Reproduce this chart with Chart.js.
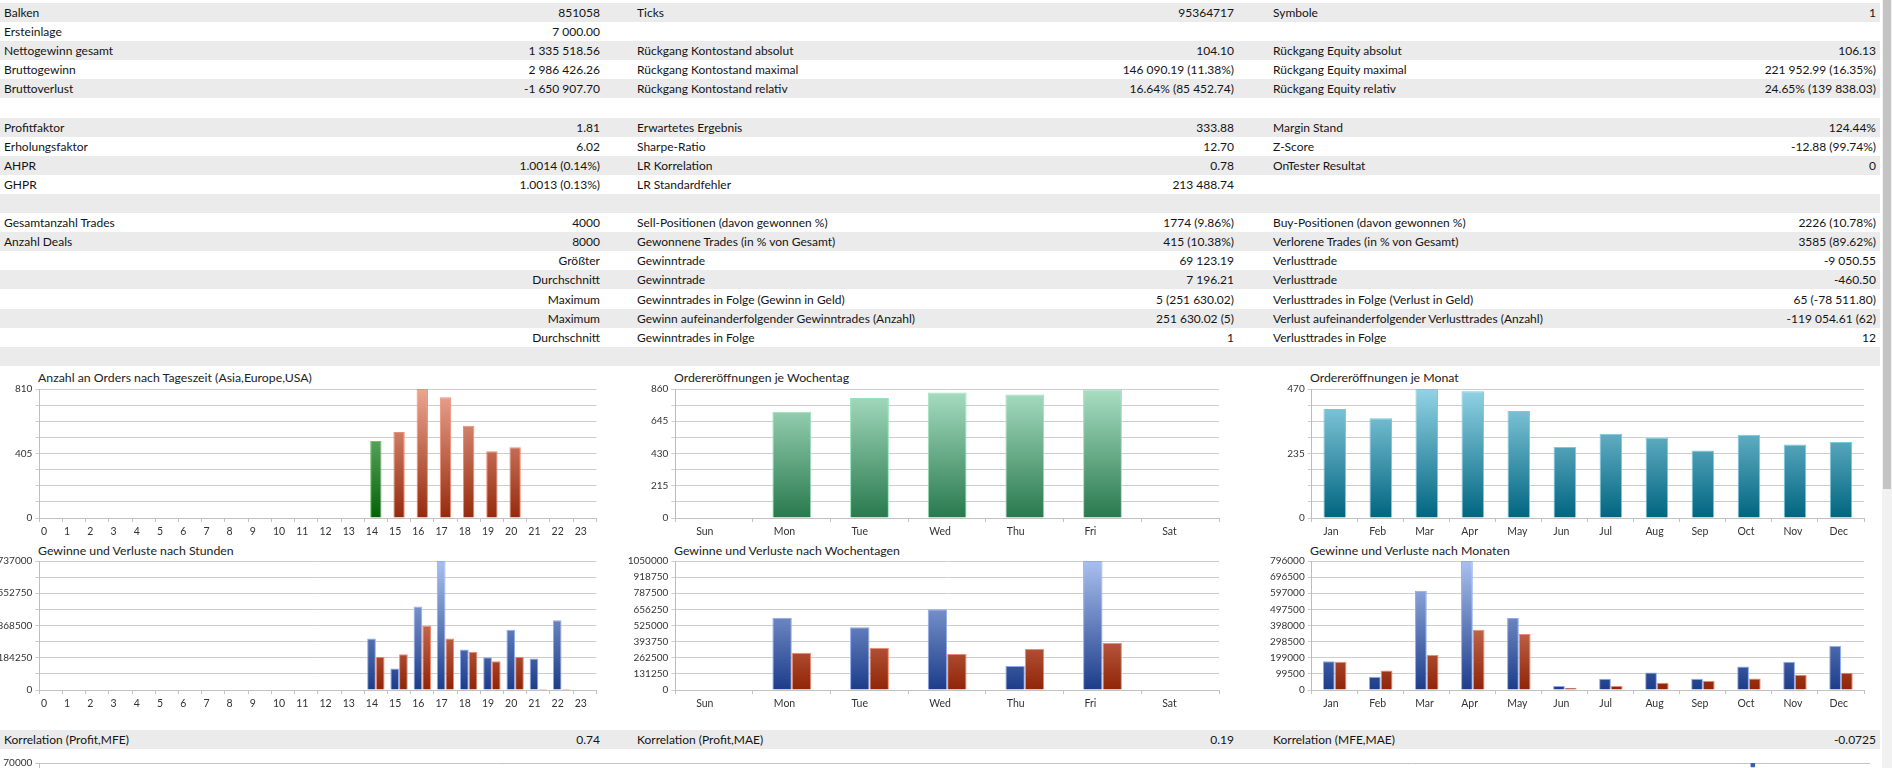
<!DOCTYPE html>
<html>
<head>
<meta charset="utf-8">
<script src="https://cdn.jsdelivr.net/npm/chart.js@4.4.1/dist/chart.umd.min.js"></script>
<style>
  html, body { margin:0; padding:0; width:1892px; height:768px; overflow:hidden; background:#fff; }
  body { position:relative; font-family: Lato, "Liberation Sans", sans-serif; font-size:12px; color:#141414; }
  .row { position:absolute; left:0; width:1880px; }
  .row.g { background:#ebebeb; }
  .cell { position:absolute; top:0; white-space:nowrap; }
  .r { text-align:right; width:300px; }
  .ttl { position:absolute; font-size:12.3px; color:#222; white-space:nowrap; line-height:14px; }
  canvas { position:absolute; }
  #sbTrack { position:absolute; left:1882px; top:0; width:10px; height:768px; background:#f1f1f1; }
  #sbThumb { position:absolute; left:1883px; top:0; width:8px; height:489px; background:#c4c4c4; }
</style>
</head>
<body>
<div id="table"></div>
<div class="ttl" style="left:38px;top:371px;">Anzahl an Orders nach Tageszeit (Asia,Europe,USA)</div>
<div class="ttl" style="left:674px;top:371px;">Ordereröffnungen je Wochentag</div>
<div class="ttl" style="left:1310px;top:371px;">Ordereröffnungen je Monat</div>
<div class="ttl" style="left:38px;top:544px;">Gewinne und Verluste nach Stunden</div>
<div class="ttl" style="left:674px;top:544px;">Gewinne und Verluste nach Wochentagen</div>
<div class="ttl" style="left:1310px;top:544px;">Gewinne und Verluste nach Monaten</div>
<canvas id="c1" width="600" height="159" style="left:0px;top:379px;width:600px;height:159px;"></canvas>
<canvas id="c2" width="602" height="159" style="left:620px;top:379px;width:602px;height:159px;"></canvas>
<canvas id="c3" width="617" height="159" style="left:1250px;top:379px;width:617px;height:159px;"></canvas>
<canvas id="c4" width="600" height="159" style="left:0px;top:551px;width:600px;height:159px;"></canvas>
<canvas id="c5" width="602" height="159" style="left:620px;top:551px;width:602px;height:159px;"></canvas>
<canvas id="c6" width="617" height="159" style="left:1250px;top:551px;width:617px;height:159px;"></canvas>
<canvas id="c7" width="1880" height="160" style="left:0px;top:753px;width:1880px;height:160px;"></canvas>
<div id="sbTrack"></div><div id="sbThumb"></div>
<script>
// ---------------- table data ----------------
const col1Labels = ['Balken','Ersteinlage','Nettogewinn gesamt','Bruttogewinn','Bruttoverlust','','Profitfaktor','Erholungsfaktor','AHPR','GHPR','','Gesamtanzahl Trades','Anzahl Deals','','','','','',''];
const col1Values = ['851058','7 000.00','1 335 518.56','2 986 426.26','-1 650 907.70','','1.81','6.02','1.0014 (0.14%)','1.0013 (0.13%)','','4000','8000','Größter','Durchschnitt','Maximum','Maximum','Durchschnitt',''];
const col2Labels = ['Ticks','','Rückgang Kontostand absolut','Rückgang Kontostand maximal','Rückgang Kontostand relativ','','Erwartetes Ergebnis','Sharpe-Ratio','LR Korrelation','LR Standardfehler','','Sell-Positionen (davon gewonnen %)','Gewonnene Trades (in % von Gesamt)','Gewinntrade','Gewinntrade','Gewinntrades in Folge (Gewinn in Geld)','Gewinn aufeinanderfolgender Gewinntrades (Anzahl)','Gewinntrades in Folge',''];
const col2Values = ['95364717','','104.10','146 090.19 (11.38%)','16.64% (85 452.74)','','333.88','12.70','0.78','213 488.74','','1774 (9.86%)','415 (10.38%)','69 123.19','7 196.21','5 (251 630.02)','251 630.02 (5)','1',''];
const col3Labels = ['Symbole','','Rückgang Equity absolut','Rückgang Equity maximal','Rückgang Equity relativ','','Margin Stand','Z-Score','OnTester Resultat','','','Buy-Positionen (davon gewonnen %)','Verlorene Trades (in % von Gesamt)','Verlusttrade','Verlusttrade','Verlusttrades in Folge (Verlust in Geld)','Verlust aufeinanderfolgender Verlusttrades (Anzahl)','Verlusttrades in Folge',''];
const col3Values = ['1','','106.13','221 952.99 (16.35%)','24.65% (139 838.03)','','124.44%','-12.88 (99.74%)','0','','','2226 (10.78%)','3585 (89.62%)','-9 050.55','-460.50','65 (-78 511.80)','-119 054.61 (62)','12',''];
const corrLabels = ['Korrelation (Profit,MFE)','Korrelation (Profit,MAE)','Korrelation (MFE,MAE)'];
const corrValues = ['0.74','0.19','-0.0725'];

// ---------------- chart data ----------------
const hourLabels = ['0','1','2','3','4','5','6','7','8','9','10','11','12','13','14','15','16','17','18','19','20','21','22','23'];
const hourSessions = ['Asia','Asia','Asia','Asia','Asia','Asia','Asia','Asia','Europe','Europe','Europe','Europe','Europe','Europe','Europe','USA','USA','USA','USA','USA','USA','USA','USA','USA'];
const ordersByHour = [0,0,0,0,0,0,0,0,0,0,0,0,0,0,483,540,810,758,580,419,445,0,0,0];
const weekdayLabels = ['Sun','Mon','Tue','Wed','Thu','Fri','Sat'];
const ordersByWeekday = [0,709,800,836,823,856,0];
const monthLabels = ['Jan','Feb','Mar','Apr','May','Jun','Jul','Aug','Sep','Oct','Nov','Dec'];
const ordersByMonth = [397,363,470,462,390,259,307,292,246,303,268,277];
const profitByHour = [0,0,0,0,0,0,0,0,0,0,0,0,0,0,293700,123100,477400,737000,231100,187600,344800,180000,397900,0];
const lossByHour   = [0,3000,3000,3000,3000,0,0,0,0,0,3000,0,0,0,189500,204600,367500,293700,217900,164800,189500,5700,5000,0];
const profitByWeekday = [0,589000,510000,657000,196000,1050000,0];
const lossByWeekday   = [0,304000,343000,294000,334000,383000,0];
const profitByMonth = [178000,81900,611800,796000,444000,24500,69600,108400,69600,145300,174000,272100];
const lossByMonth   = [175000,120700,216900,372400,345800,14300,24500,45000,57300,71600,94100,106400];
const scatterMfe = [234000];
const scatterProfit = [69000];

// axis maxima and how often a gridline carries a label
const yMaxOrdersHour = 810, yEveryOrdersHour = 4;
const yMaxOrdersWeekday = 860, yEveryOrdersWeekday = 2;
const yMaxOrdersMonth = 470, yEveryOrdersMonth = 4;
const yMaxPLHour = 737000, yEveryPLHour = 2;
const yMaxPLWeekday = 1050000, yEveryPLWeekday = 1;
const yMaxPLMonth = 796000, yEveryPLMonth = 1;
const yMaxScatter = 70000;

// ---------------- table build ----------------
const ROW_TOP = 3, ROW_H = 19.1;
const tbl = document.getElementById('table');
function addRow(top, h, gray, cells) {
  const r = document.createElement('div');
  r.className = 'row' + (gray ? ' g' : '');
  r.style.top = top + 'px'; r.style.height = h + 'px'; r.style.lineHeight = h + 'px';
  cells.forEach(([txt, left, right]) => {
    if (!txt) return;
    const s = document.createElement('div');
    s.className = 'cell' + (right ? ' r' : '');
    s.textContent = txt;
    s.style.left = (right ? left - 300 : left) + 'px';
    r.appendChild(s);
  });
  tbl.appendChild(r);
}
for (let i = 0; i < col1Labels.length; i++) {
  addRow(ROW_TOP + i * ROW_H, ROW_H, i % 2 === 0, [
    [col1Labels[i], 4, false], [col1Values[i], 600, true],
    [col2Labels[i], 637, false], [col2Values[i], 1234, true],
    [col3Labels[i], 1273, false], [col3Values[i], 1876, true]
  ]);
}
addRow(730, 19.1, true, [
  [corrLabels[0], 4, false], [corrValues[0], 600, true],
  [corrLabels[1], 637, false], [corrValues[1], 1234, true],
  [corrLabels[2], 1273, false], [corrValues[2], 1876, true]
]);

// ---------------- charts ----------------
const FONT = 'Lato, "Liberation Sans", sans-serif';
const TICK_FONT = { size: 10, family: FONT };
const GRID = '#cdcdcd';
Chart.defaults.font.family = FONT;
Chart.defaults.animation = false;

function grad(top, bottom) {
  return (c) => {
    const a = c.chart.chartArea;
    if (!a) return bottom;
    const g = c.chart.ctx.createLinearGradient(0, a.top, 0, a.bottom);
    g.addColorStop(0, top); g.addColorStop(1, bottom);
    return g;
  };
}
const COL = {
  blue: grad('#a9c0ee', '#1c3c8a'), blueB: '#8fabec',
  red: grad('#f2ab96', '#902406'), redB: '#f08a70',
  green: grad('#8ccb94', '#056105'), greenB: '#6fc06f',
  salmon: grad('#eba590', '#952a0c'), salmonB: '#f08b74',
  mint: grad('#a9dec3', '#28794d'), mintB: '#97e2bb',
  teal: grad('#93d3e5', '#006580'), tealB: '#74cae2'
};

function barChart(id, labels, datasets, yMax, every, yWidth, labelOffset) {
  return new Chart(document.getElementById(id), {
    type: 'bar',
    data: { labels, datasets },
    options: {
      responsive: false,
      animation: false,
      layout: { padding: { top: 10, right: 3, left: 0, bottom: 0 } },
      plugins: { legend: { display: false }, tooltip: { enabled: false }, title: { display: false } },
      scales: {
        x: {
          type: 'category', offset: true,
          grid: { display: true, offset: true, drawOnChartArea: false, drawTicks: true, tickLength: 4, color: '#c2c2c2' },
          border: { display: true, color: '#c2c2c2' },
          ticks: { font: { size: 10.5, family: FONT }, color: '#333', align: 'start', labelOffset, padding: 3, maxRotation: 0, autoSkip: false },
          afterFit: (s) => { s.height = 20; }
        },
        y: {
          min: 0, max: yMax,
          grid: { color: GRID, lineWidth: 1, tickLength: 4 },
          border: { display: true, color: '#bdbdbd' },
          ticks: {
            stepSize: yMax / 8, padding: 3, color: '#333', font: TICK_FONT, autoSkip: false,
            callback: (v, i) => (i % every === 0 ? String(Math.round(v)) : '')
          },
          afterFit: (s) => { s.width = yWidth; }
        }
      }
    }
  });
}

// 1: orders per hour
barChart('c1', hourLabels, [{
  data: ordersByHour,
  backgroundColor: (c) => hourSessions[c.dataIndex] === 'USA' ? COL.salmon(c) : COL.green(c),
  borderColor: (c) => hourSessions[c.dataIndex] === 'USA' ? COL.salmonB : COL.greenB,
  borderWidth: 1, borderSkipped: 'bottom', categoryPercentage: 1, barPercentage: 0.49
}], yMaxOrdersHour, yEveryOrdersHour, 39.3, -10);

// 2: orders per weekday
barChart('c2', weekdayLabels, [{
  data: ordersByWeekday, backgroundColor: COL.mint, borderColor: COL.mintB,
  borderWidth: 1, borderSkipped: 'bottom', categoryPercentage: 1, barPercentage: 0.5
}], yMaxOrdersWeekday, yEveryOrdersWeekday, 55.3, -18);

// 3: orders per month
barChart('c3', monthLabels, [{
  data: ordersByMonth, backgroundColor: COL.teal, borderColor: COL.tealB,
  borderWidth: 1, borderSkipped: 'bottom', categoryPercentage: 1, barPercentage: 0.49
}], yMaxOrdersMonth, yEveryOrdersMonth, 61.7, -11.5);

// 4: P/L per hour
barChart('c4', hourLabels, [
  { data: profitByHour, backgroundColor: COL.blue, borderColor: COL.blueB, borderWidth: 1, borderSkipped: 'bottom', categoryPercentage: 0.75, barPercentage: 1 },
  { data: lossByHour, backgroundColor: COL.red, borderColor: COL.redB, borderWidth: 1, borderSkipped: 'bottom', categoryPercentage: 0.75, barPercentage: 1 }
], yMaxPLHour, yEveryPLHour, 39.3, -10);

// 5: P/L per weekday
barChart('c5', weekdayLabels, [
  { data: profitByWeekday, backgroundColor: COL.blue, borderColor: COL.blueB, borderWidth: 1, borderSkipped: 'bottom', categoryPercentage: 0.5, barPercentage: 1 },
  { data: lossByWeekday, backgroundColor: COL.red, borderColor: COL.redB, borderWidth: 1, borderSkipped: 'bottom', categoryPercentage: 0.5, barPercentage: 1 }
], yMaxPLWeekday, yEveryPLWeekday, 55.3, -18);

// 6: P/L per month
barChart('c6', monthLabels, [
  { data: profitByMonth, backgroundColor: COL.blue, borderColor: COL.blueB, borderWidth: 1, borderSkipped: 'bottom', categoryPercentage: 0.51, barPercentage: 1 },
  { data: lossByMonth, backgroundColor: COL.red, borderColor: COL.redB, borderWidth: 1, borderSkipped: 'bottom', categoryPercentage: 0.51, barPercentage: 1 }
], yMaxPLMonth, yEveryPLMonth, 61.7, -11.5);

// 7: partially visible scatter chart below (only its top edge is on screen)
new Chart(document.getElementById('c7'), {
  type: 'scatter',
  data: { datasets: [{ data: scatterMfe.map((x, i) => ({ x, y: scatterProfit[i] })), backgroundColor: '#2f5fb3', borderColor: '#2f5fb3', pointStyle: 'rect', pointRadius: 2.5 }] },
  options: {
    responsive: false, animation: false,
    layout: { padding: { top: 10, right: 10, left: 0, bottom: 0 } },
    plugins: { legend: { display: false }, tooltip: { enabled: false } },
    scales: {
      x: { type: 'linear', min: 0, max: 250000, display: false },
      y: {
        min: 0, max: yMaxScatter,
        grid: { color: '#c4c4c4', tickLength: 4 },
        border: { display: true, color: '#bdbdbd' },
        ticks: { stepSize: 10000, padding: 3, color: '#333', font: TICK_FONT, autoSkip: false, callback: (v) => String(v) },
        afterFit: (s) => { s.width = 39.3; }
      }
    }
  }
});
</script>
</body>
</html>
